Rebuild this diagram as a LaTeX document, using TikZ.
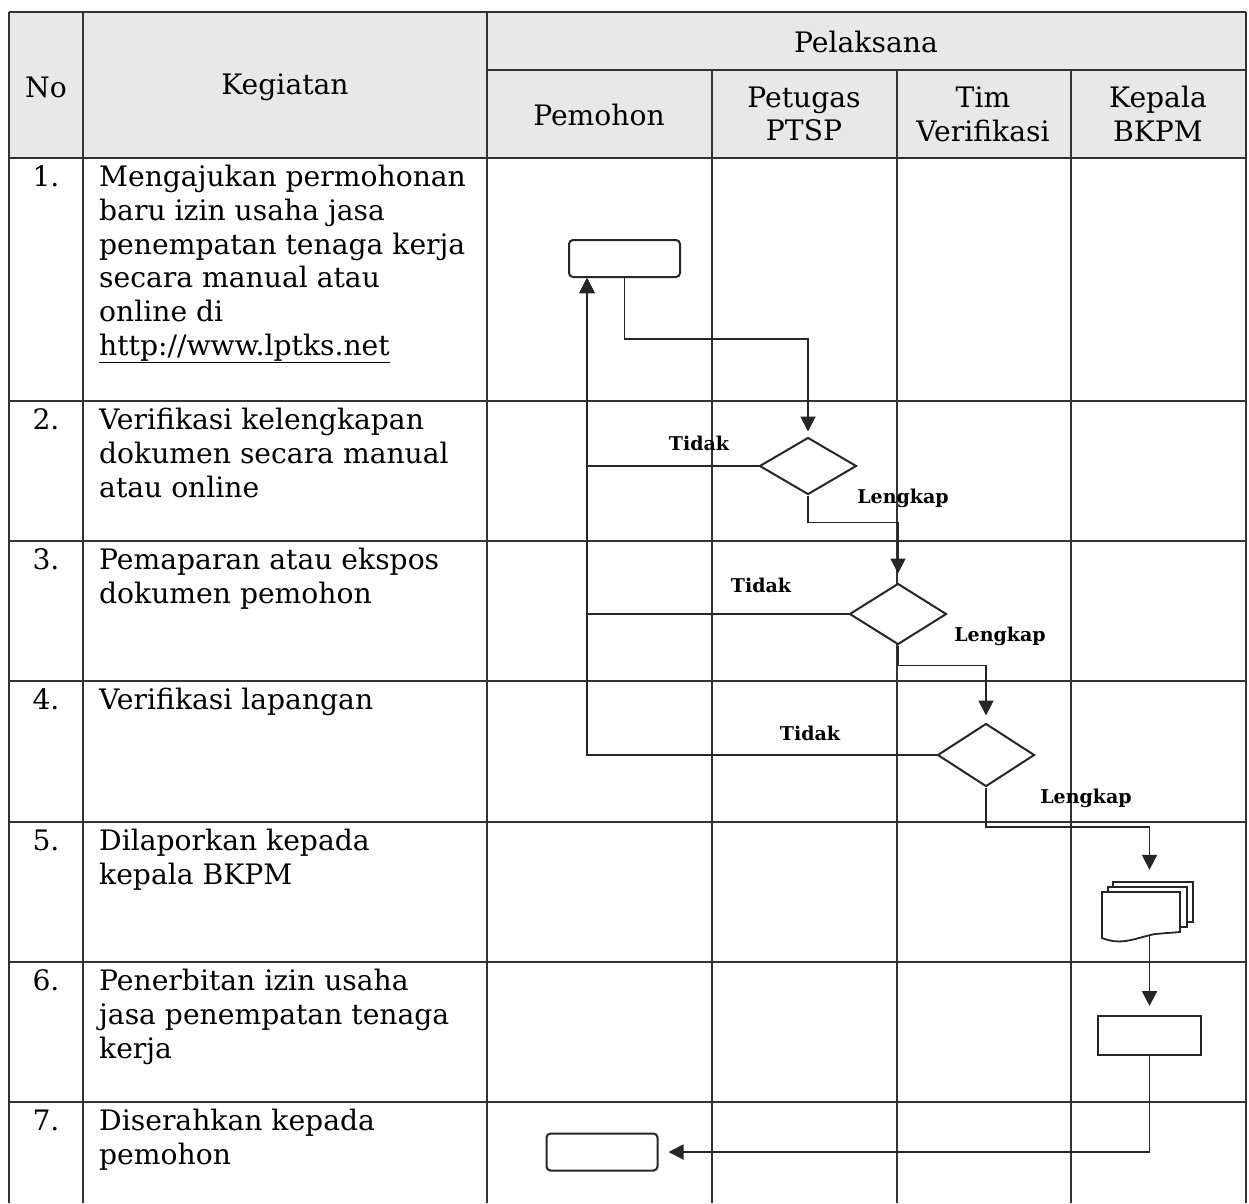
\documentclass[tikz,border=0pt]{standalone}
\usepackage{fontspec}
\setmainfont{DejaVu Serif}
\usetikzlibrary{arrows.meta,shapes.geometric,calc}
\begin{document}
\begin{tikzpicture}[x=1pt,y=-1pt,
  grid/.style={draw=black!80, line width=1.6pt},
  txt/.style={font=\fontsize{28.2}{33.7}\selectfont, inner sep=0pt},
  keg/.style={txt, anchor=north west, align=left},
  num/.style={txt, anchor=base},
  hdr/.style={txt, align=center},
  lbl/.style={font=\bfseries\fontsize{19}{21}\selectfont, inner sep=0pt},
  shp/.style={draw=black!85, line width=2pt, fill=white},
  term/.style={shp, rounded corners=4pt, minimum width=111pt, minimum height=37pt, inner sep=0pt},
  proc/.style={shp, minimum width=103pt, minimum height=39pt, inner sep=0pt},
  dec/.style={shp, diamond, inner sep=0pt, minimum width=97pt, minimum height=61pt, aspect=1.6},
  conn/.style={draw=black!85, line width=1.9pt},
  arr/.style={conn, -{Triangle[width=15pt,length=15pt]}},
]
\useasboundingbox (0,0) rectangle (1249,1203);
% header background
\fill[black!9] (9,12) rectangle (1246,158);
% grid
\draw[grid] (9,12) -- (1246,12);
\draw[grid] (487,70) -- (1246,70);
\foreach \yy in {158,401,541,681,822,962,1102} {\draw[grid] (9,\yy) -- (1246,\yy);}
\foreach \xx in {9,83,487,1246} {\draw[grid] (\xx,12) -- (\xx,1203);}
\foreach \xx in {712,897,1071} {\draw[grid] (\xx,70) -- (\xx,1203);}
% header text
\node[hdr] (hno) at (46,87) {No};
\node[hdr] (hkeg) at (285,87) {Kegiatan};
\node[hdr] (hpel) at (866,42) {Pelaksana};
\node[hdr] (hpem) at (599,115) {Pemohon};
\node[hdr] (hpet) at (804,114) {Petugas\\PTSP};
\node[hdr] (htim) at (983,114) {Tim\\Verifikasi};
\node[hdr] (hkep) at (1158,114) {Kepala\\BKPM};
% numbers
\node[num] (n1) at (46,186.5) {1.};
\node[num] (n2) at (46,429.5) {2.};
\node[num] (n3) at (46,569.5) {3.};
\node[num] (n4) at (46,709.5) {4.};
\node[num] (n5) at (46,850.5) {5.};
\node[num] (n6) at (46,990.5) {6.};
\node[num] (n7) at (46,1130.5) {7.};
% activities
\node[keg] (k1) at (99,162.9) {\strut Mengajukan permohonan\\baru izin usaha jasa\\penempatan tenaga kerja\\secara manual atau\\online di\\\underline{http://www.lptks.net}};
\node[keg] (k2) at (99,405.9) {\strut Verifikasi kelengkapan\\dokumen secara manual\\atau online};
\node[keg] (k3) at (99,545.9) {\strut Pemaparan atau ekspos\\dokumen pemohon};
\node[keg] (k4) at (99,685.9) {\strut Verifikasi lapangan};
\node[keg] (k5) at (99,826.9) {\strut Dilaporkan kepada\\kepala BKPM};
\node[keg] (k6) at (99,966.9) {\strut Penerbitan izin usaha\\jasa penempatan tenaga\\kerja};
\node[keg] (k7) at (99,1106.9) {\strut Diserahkan kepada\\pemohon};
% flow shapes
\node[term] (r1) at (624.5,258.5) {};
\node[dec, minimum height=57pt] (d1) at (808,466) {};
\node[dec] (d2) at (898,614) {};
\node[dec, minimum height=63pt] (d3) at (986,755) {};
% document stack
\node[minimum width=91pt, minimum height=62pt, inner sep=0pt] (doc) at (1149.5,911) {};
\draw[shp, line width=1.6pt] (1113,882) rectangle (1193,922);
\draw[shp, line width=1.6pt] (1108,887) rectangle (1187,927);
\draw[shp, line width=1.8pt] (1102,892) -- (1102,938) .. controls (1122,946) and (1135,938) .. (1155,934) -- (1180,932) -- (1180,892) -- cycle;
\node[proc] (r2) at (1149.5,1035.5) {};
\node[term] (r3) at (602,1152) {};
% connectors
\draw[arr, shorten >=5pt] (r1.south) -- ++(0,61) -| (d1.north);
\draw[arr] (d1.west) -| ([xshift=-37.5pt]r1.south);
\draw[arr, shorten >=9pt] (d1.south) -- ++(0,27) -| (d2.north);
\draw[arr] (d2.west) -| ([xshift=-37.5pt]r1.south);
\draw[arr, shorten >=7pt] (d2.south) -- ++(0,20) -| (d3.north);
\draw[arr] (d3.west) -| ([xshift=-37.5pt]r1.south);
\draw[arr, shorten >=10pt] (d3.south) -- ++(0,39.5) -| (doc.north);
\draw[arr, shorten >=9pt] ([yshift=7pt]doc.south) -- (r2.north);
\draw[arr, shorten >=10pt] (r2.south) |- (r3.east);
% labels
\node[lbl] (t1) at (699,443) {Tidak};
\node[lbl] (l1) at (903,498) {Lengkap};
\node[lbl] (t2) at (761,585) {Tidak};
\node[lbl] (l2) at (1000,636) {Lengkap};
\node[lbl] (t3) at (810,733) {Tidak};
\node[lbl] (l3) at (1086,798) {Lengkap};
\end{tikzpicture}
\end{document}
